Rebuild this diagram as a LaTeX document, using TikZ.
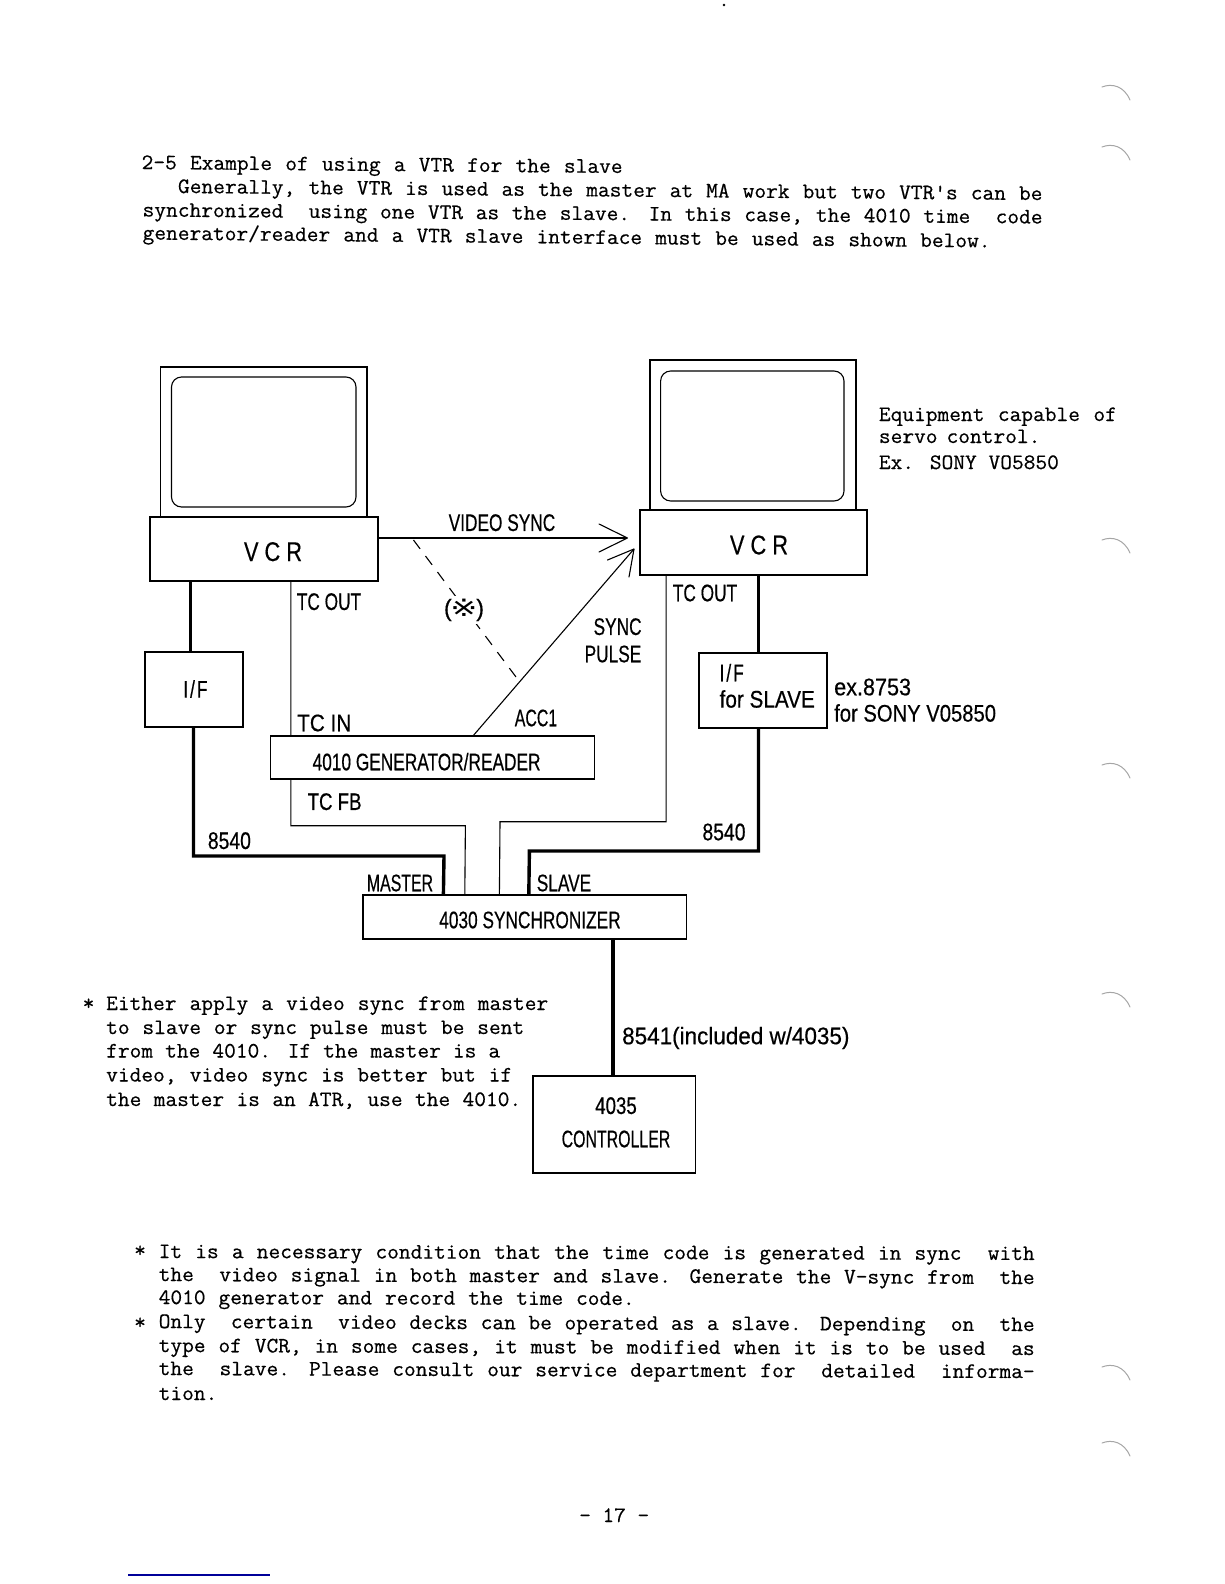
\documentclass[tikz,border=0pt]{standalone}
\usepackage{fontspec}
\usepackage{graphicx}
\usetikzlibrary{calc}
\setmainfont{Liberation Serif}
\newfontfamily\typew[FakeStretch=1.035,FakeBold=0.5]{Latin Modern Mono}
\newfontfamily\lab[FakeStretch=0.72,FakeBold=0.4]{Liberation Sans}
\newcommand{\sx}[2]{\scalebox{#1}[1]{#2}}
\tikzset{
  boxn/.style={draw,line width=1.1pt,inner sep=0pt,fill=white},
  thin line/.style={line width=1.1pt,line join=miter},
  thick line/.style={line width=3.4pt,line join=miter},
  lbl/.style={inner sep=0pt,font=\fontsize{24}{28}\selectfont\lab},
  vcrl/.style={inner sep=0pt,font=\fontsize{27}{30}\selectfont\lab},
  tw/.style={inner sep=0pt,anchor=base west,font=\fontsize{22}{24}\selectfont\typew},
  head/.style={line width=1.1pt,line cap=round,line join=round},
  scan/.style={line width=1pt,draw=black!35,line cap=round},
}
\newcommand{\tw}[5]{% x, y, width, text, tilt
  \node[tw,rotate=-#5] at (#1,#2) {\makebox[#3pt][s]{#4}};}
\begin{document}
\begin{tikzpicture}[x=1pt,y=-1pt]
\useasboundingbox (0,0) rectangle (1224,1584);
\fill[white] (0,0) rectangle (1224,1584);

% monitors
\node[boxn,minimum width=206.5pt,minimum height=150pt] (mon1) at (263.7,442) {};
\draw[line width=1.1pt,rounded corners=10pt] (171.5,377) rectangle (356,507);
\node[boxn,minimum width=206pt,minimum height=150pt] (mon2) at (753,435) {};
\draw[line width=1.1pt,rounded corners=10pt] (660.6,371) rectangle (844,501);

% boxes
\node[boxn,minimum width=228pt,minimum height=64pt] (vcrA) at (264,549) {};
\node[boxn,minimum width=227pt,minimum height=65pt] (vcrB) at (753.5,542.5) {};
\node[boxn,minimum width=98pt,minimum height=75pt] (ifA) at (194,689.5) {};
\node[boxn,minimum width=128pt,minimum height=75pt] (ifB) at (763,690.5) {};
\node[boxn,minimum width=323.5pt,minimum height=43pt] (gen) at (432.3,757.5) {};
\node[boxn,minimum width=323.5pt,minimum height=44pt] (syn) at (524.7,917) {};
\node[boxn,minimum width=162.5pt,minimum height=97pt] (ctl) at (614.2,1124.5) {};

% thick connectors
\draw[thick line] ($(vcrA.south west)+(41,0)$) -- ($(ifA.north west)+(46,0)$);
\draw[thick line] ($(ifA.south west)+(49,0)$) |- (444,856) -- ($(syn.north west)+(81,0)$);
\draw[thick line] ($(vcrB.south west)+(119,0)$) -- ($(ifB.north west)+(60,0)$);
\draw[thick line] ($(ifB.south west)+(60,0)$) |- (529.4,851) -- ($(syn.north west)+(166.4,0)$);
\draw[thick line] ($(syn.south west)+(250.4,0)$) -- ($(ctl.north west)+(80.4,0)$);

% thin connectors
\draw[thin line] ($(vcrA.south west)+(141.4,0)$) -- ($(gen.north west)+(20.8,0)$);
\draw[thin line] ($(gen.south west)+(20.8,0)$) |- (465.4,825.7) -- ($(syn.north west)+(102.4,0)$);
\draw[thin line] ($(vcrB.south west)+(26.6,0)$) |- (500,821.7) -- ($(syn.north west)+(137,0)$);

% video sync
\coordinate (vtip) at ($(vcrB.west)+(-12,-4.5)$);
\draw[line width=2pt] (vcrA.east |- vtip) -- (vtip);
\draw[head] (599,524) -- (vtip) -- (599,552);
% sync pulse
\coordinate (ptip) at (634,549);
\draw[thin line] ($(gen.north west)+(203.4,0)$) -- (ptip);
\draw[head] (607.5,560) -- (ptip) -- (629,577);
% dashed
\draw[line width=1.1pt,dashed,dash pattern=on 11pt off 9pt] (413.5,540) -- (516,677);

% labels
\node[lbl] (lvs) at (502,522.7) {VIDEO SYNC};
\node[vcrl] (lva) at (273,551.7) {\sx{1.12}{V C R}};
\node[vcrl] (lvb) at (759,545) {\sx{1.12}{V C R}};
\node[lbl] (lto1) at (329,601.7) {TC OUT};
\node[lbl] (lto2) at (705,593) {TC OUT};
\node[lbl] (lsy) at (617.6,626.7) {SYNC};
\node[lbl] (lpu) at (613,654) {PULSE};
\node[lbl] (lifa) at (195.4,689) {I\hspace{2pt}/\hspace{2pt}F};
\node[lbl,anchor=west] (lifb) at (719.4,672.7) {I\hspace{2pt}/\hspace{2pt}F};
\node[lbl,anchor=west] (lifs) at (719.4,699) {\sx{1.2}{for SLAVE}};
\node[lbl] (lacc) at (536,718) {\sx{0.92}{ACC1}};
\node[lbl,anchor=west] (ltci) at (297,723) {\sx{1.2}{TC IN}};
\node[lbl] (lgen) at (426.6,761.7) {4010 GENERATOR/READER};
\node[lbl] (ltcf) at (334.6,801.7) {\sx{1.08}{TC FB}};
\node[lbl] (l85a) at (229.4,840.7) {\sx{1.12}{8540}};
\node[lbl] (l85b) at (724,832) {\sx{1.12}{8540}};
\node[lbl] (lmas) at (400,883) {\sx{0.92}{MASTER}};
\node[lbl] (lsla) at (564,883) {SLAVE};
\node[lbl] (lsyn) at (530,920) {4030 SYNCHRONIZER};
\node[lbl,anchor=west] (lex) at (834,687) {\sx{1.25}{ex.8753}};
\node[lbl,anchor=west] (lfs) at (834,713) {\sx{1.17}{for SONY V05850}};
\node[lbl,anchor=west] (l854) at (622,1038) {\sx{1.3}{8541(included w/4035)}};
\node[lbl] (l35) at (616,1105.7) {\sx{1.08}{4035}};
\node[lbl] (lcon) at (616,1139) {\sx{0.92}{CONTROLLER}};
\node[inner sep=3pt,fill=white,font=\fontsize{24}{28}\selectfont\lab] (lref) at (464,610) {\sx{1.35}{(\hspace{-1pt}{\fontspec{DejaVu Sans}\fontsize{24}{26}\selectfont ※}\hspace{-1pt})}};

% typewritten text
\tw{141.4}{169}{481}{2-5 Example of using a VTR for the slave}{0.48}
\tw{177.8}{193}{864.5}{Generally, the VTR is used as the master at MA work but two VTR's can be}{0.47}
\tw{142.4}{216.5}{900}{synchronized\ \ using one VTR as the slave. In this case, the 4010 time\ \ code}{0.45}
\tw{142.4}{239.5}{848}{generator/reader and a VTR slave interface must be used as shown below.}{0.54}

\tw{878.7}{421}{238}{Equipment capable of}{0}
\tw{878.7}{443}{161.5}{servo control.}{0}
\tw{878.7}{469}{180}{Ex. SONY VO5850}{0}

\tw{82.5}{1010}{10}{*}{0}
\tw{106}{1010}{442}{Either apply a video sync from master}{0}
\tw{106}{1034}{418}{to slave or sync pulse must be sent}{0}
\tw{106}{1057.5}{394}{from the 4010. If the master is a}{0}
\tw{106}{1081.5}{406}{video, video sync is better but if}{0}
\tw{106}{1106}{415}{the master is an ATR, use the 4010.}{0}

\tw{134}{1257}{10}{*}{0}
\tw{158.5}{1258}{876}{It is a necessary condition that the time code is generated in sync\ \ with}{0.13}
\tw{158.5}{1281}{876}{the\ \ video signal in both master and slave. Generate the V-sync from\ \ the}{0.2}
\tw{158.5}{1304}{476}{4010 generator and record the time code.}{0.12}
\tw{134}{1329}{10}{*}{0}
\tw{158.5}{1328}{876}{Only\ \ certain\ \ video decks can be operated as a slave. Depending\ \ on\ \ the}{0.2}
\tw{158.5}{1352}{876}{type of VCR, in some cases, it must be modified when it is to be used\ \ as}{0.2}
\tw{158.5}{1375}{876}{the\ \ slave. Please consult our service department for\ \ detailed\ \ informa-}{0.2}
\tw{158.5}{1400}{56}{tion.}{0}
\tw{579}{1522}{70}{- 17 -}{0}

% scan marks
\foreach \yy in {94,154,547,772,1001,1374,1450}
  \draw[scan] (1102,\yy-7) .. controls (1112,\yy-11) and (1124,\yy-8) .. (1130,\yy+6);
\fill (724,5) circle (1.3pt);
\draw[line width=1.2pt,draw=blue!60!black] (128,1575) -- (270,1575);
\end{tikzpicture}
\end{document}
